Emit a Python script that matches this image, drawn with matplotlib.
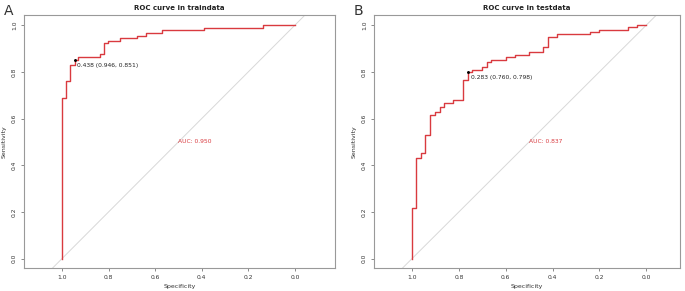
import numpy as np
import matplotlib.pyplot as plt

# ROC step points (specificity, sensitivity)
spec_train = [1.0, 0.981, 0.966, 0.946, 0.933, 0.837, 0.82, 0.801, 0.751, 0.679,
              0.639, 0.57, 0.391, 0.139, 0.0]
sens_train = [0.0, 0.69, 0.762, 0.829, 0.851, 0.863, 0.876, 0.923, 0.933, 0.944,
              0.953, 0.966, 0.979, 0.99, 1.0]

spec_test = [1.0, 0.983, 0.962, 0.943, 0.925, 0.90, 0.879, 0.862, 0.825, 0.784,
             0.760, 0.742, 0.703, 0.681, 0.664, 0.598, 0.56, 0.501, 0.442, 0.42,
             0.382, 0.239, 0.2, 0.078, 0.038, 0.0]
sens_test = [0.0, 0.218, 0.432, 0.453, 0.528, 0.614, 0.627, 0.648, 0.668, 0.681,
             0.766, 0.798, 0.809, 0.822, 0.843, 0.85, 0.863, 0.873, 0.885, 0.906,
             0.949, 0.963, 0.97, 0.981, 0.991, 1.0]

panels = [
    dict(letter="A", title="ROC curve in traindata", spec=spec_train, sens=sens_train,
         thres=(0.946, 0.851), thres_label="0.438 (0.946, 0.851)", auc="AUC: 0.950",
         rect=[0.035, 0.079, 0.454, 0.869], xlim=(1.163, -0.172)),
    dict(letter="B", title="ROC curve in testdata", spec=spec_test, sens=sens_test,
         thres=(0.760, 0.798), thres_label="0.283 (0.760, 0.798)", auc="AUC: 0.837",
         rect=[0.546, 0.079, 0.447, 0.869], xlim=(1.162, -0.145)),
]

curve_color = "#d93a3f"
ticks = [0.0, 0.2, 0.4, 0.6, 0.8, 1.0]

fig = plt.figure(figsize=(6.85, 2.91), dpi=100)

for p in panels:
    ax = fig.add_axes(p["rect"])
    ax.set_xlim(*p["xlim"])
    ax.set_ylim(-0.04, 1.043)

    # diagonal reference line
    xs = np.array([1.3, -0.3])
    ax.plot(xs, 1 - xs, color="#d8d8d8", lw=0.7, zorder=1)

    ax.plot(p["spec"], p["sens"], drawstyle="steps-pre", color=curve_color, lw=1.0, zorder=3)

    tx, ty = p["thres"]
    ax.plot([tx], [ty], "o", color="black", ms=1.1, zorder=4)
    ax.text(tx - 0.01, ty - 0.022, p["thres_label"], fontsize=4.3, ha="left", va="center",
            color="#222222", zorder=5)

    ax.text(0.5, 0.5, p["auc"], fontsize=4.3, color=curve_color, ha="left", va="center")

    ax.set_xticks(ticks)
    ax.set_xticklabels([f"{t:.1f}" for t in ticks])
    ax.set_yticks(ticks)
    ax.set_yticklabels([f"{t:.1f}" for t in ticks], rotation=90, va="center")
    ax.tick_params(labelsize=4.3, length=2.5, width=0.6, color="#777777",
                   labelcolor="#333333", pad=2.5)
    for s in ax.spines.values():
        s.set_color("#999999")
        s.set_linewidth(0.8)

    ax.set_xlabel("Specificity", fontsize=4.5, color="#333333", labelpad=3)
    ax.set_ylabel("Sensitivity", fontsize=4.5, color="#333333", labelpad=4)
    ax.set_title(p["title"], fontsize=5, fontweight="bold", color="#222222", pad=4)

    fig.text(p["rect"][0] - 0.03, 0.985, p["letter"], fontsize=10, color="#333333",
             ha="left", va="top")

fig.savefig("out.png", dpi=100)
